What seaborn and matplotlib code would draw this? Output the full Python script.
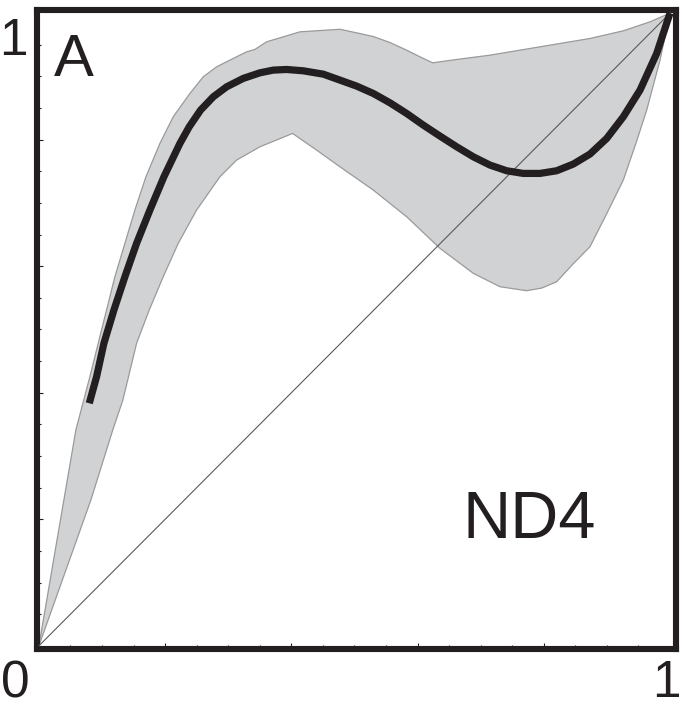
import numpy as np
import pandas as pd
import matplotlib
matplotlib.use("Agg")
import matplotlib.pyplot as plt
import seaborn as sns
from matplotlib.ticker import FixedLocator

# ---- data ----
curve_x = [0.0798, 0.0914, 0.1030, 0.1189, 0.1363, 0.1548, 0.1759, 0.1981, 0.2235,
           0.2382, 0.2562, 0.2763, 0.2975, 0.3238, 0.3502, 0.3714, 0.3925, 0.4189,
           0.4506, 0.4770, 0.5035, 0.5298, 0.5563, 0.5827, 0.6090, 0.6355, 0.6620,
           0.6883, 0.7147, 0.7412, 0.7675, 0.7940, 0.8204, 0.8468, 0.8732, 0.8997,
           0.9260, 0.9525, 0.9789, 1.0]
curve_y = [0.3834, 0.4254, 0.4782, 0.5308, 0.5834, 0.6362, 0.6888, 0.7414, 0.7942,
           0.8204, 0.8468, 0.8678, 0.8836, 0.8969, 0.9057, 0.9100, 0.9110, 0.9089,
           0.9036, 0.8942, 0.8847, 0.8731, 0.8583, 0.8415, 0.8231, 0.8057, 0.7888,
           0.7730, 0.7599, 0.7509, 0.7467, 0.7467, 0.7509, 0.7615, 0.7773, 0.8020,
           0.8362, 0.8784, 0.9363, 1.0]

upper_x = [0.0, 0.0586, 0.0808, 0.0940, 0.1204, 0.1521, 0.1696, 0.1918, 0.2129,
           0.2393, 0.2604, 0.2816, 0.3079, 0.3291, 0.3423, 0.3608, 0.4136, 0.4770,
           0.5035, 0.5298, 0.5563, 0.5827, 0.6038, 0.6239, 0.6620, 0.7147, 0.7940,
           0.8732, 0.9260, 0.9683, 1.0]
upper_y = [0.0, 0.3412, 0.4254, 0.4782, 0.5834, 0.6888, 0.7414, 0.7942, 0.8363,
           0.8731, 0.8994, 0.9152, 0.9284, 0.9389, 0.9427, 0.9547, 0.9705, 0.9745,
           0.9689, 0.9631, 0.9536, 0.9415, 0.9310, 0.9215, 0.9268, 0.9336, 0.9468,
           0.9600, 0.9721, 0.9863, 1.0]

lower_x = [0.0, 0.0824, 0.1170, 0.1331, 0.1548, 0.1748, 0.1970, 0.2208, 0.2499,
           0.2868, 0.3133, 0.3502, 0.4020, 0.4400, 0.4770, 0.5298, 0.5827, 0.6355,
           0.6883, 0.7306, 0.7729, 0.7971, 0.8204, 0.8463, 0.8732, 0.9002, 0.9260,
           0.9461, 0.9631, 0.9842, 1.0]
lower_y = [0.0, 0.2306, 0.3410, 0.3886, 0.4782, 0.5308, 0.5834, 0.6362, 0.6888,
           0.7414, 0.7678, 0.7888, 0.8099, 0.7836, 0.7572, 0.7204, 0.6782, 0.6283,
           0.5888, 0.5676, 0.5613, 0.5656, 0.5755, 0.6035, 0.6308, 0.6840, 0.7362,
           0.7946, 0.8468, 0.9258, 1.0]

diag_x = [0.0, 1.0]
diag_y = [0.0, 1.0]

panel_label = "A"
gene_label = "ND4"
corner_labels = ["1", "0", "1"]

# ---- figure ----
sns.set_theme(style="white")
plt.rcParams['font.family'] = ['Liberation Sans', 'DejaVu Sans']

fig = plt.figure(figsize=(6.8, 7.04), dpi=100)
W, H = 680, 704
L, R, T, B = 37, 676, 10, 649
ax = fig.add_axes([L / W, (H - B) / H, (R - L) / W, (B - T) / H])

# band polygon
poly_x = upper_x + lower_x[::-1]
poly_y = upper_y + lower_y[::-1]
ax.fill(poly_x, poly_y, color="#d1d2d4", zorder=1, linewidth=0)
sns.lineplot(x=upper_x, y=upper_y, ax=ax, color="#9a9a9a", linewidth=0.9,
             sort=False, estimator=None, zorder=2)
sns.lineplot(x=lower_x, y=lower_y, ax=ax, color="#9a9a9a", linewidth=0.9,
             sort=False, estimator=None, zorder=2)

# diagonal
sns.lineplot(x=diag_x, y=diag_y, ax=ax, color="#5a5a5a", linewidth=0.8,
             sort=False, estimator=None, zorder=3)

# main curve
sns.lineplot(x=curve_x, y=curve_y, ax=ax, color="#231f20", linewidth=5.2,
             sort=False, estimator=None, zorder=4)
for ln in ax.lines:
    ln.set_solid_joinstyle("round")
ax.lines[-1].set_solid_capstyle("butt")

ax.set_xlim(-0.003, 1.0095)
ax.set_ylim(-0.005, 1.005)

for s in ax.spines.values():
    s.set_visible(True)
    s.set_linewidth(4.4)
    s.set_color("#231f20")

major = [0.2, 0.4, 0.6, 0.8]
minor = [v / 20 for v in range(1, 20) if v % 4 != 0]
ax.xaxis.set_major_locator(FixedLocator(major))
ax.xaxis.set_minor_locator(FixedLocator(minor))
ax.yaxis.set_major_locator(FixedLocator(major))
ax.yaxis.set_minor_locator(FixedLocator(minor))
ax.tick_params(axis="both", which="major", direction="in", length=4.6, width=0.8,
               color="#231f20", bottom=True, left=True, top=False, right=False,
               labelbottom=False, labelleft=False)
ax.tick_params(axis="both", which="minor", direction="in", length=2.6, width=0.8,
               color="#231f20", bottom=True, left=True, top=False, right=False)
ax.set_xlabel("")
ax.set_ylabel("")
ax.grid(False)

# texts
def px(x, y):
    return x / W, 1 - y / H

fig.text(*px(13, 55), corner_labels[0], fontsize=37, ha="center", va="baseline", color="#231f20")
fig.text(*px(15, 697), corner_labels[1], fontsize=37, ha="center", va="baseline", color="#231f20")
fig.text(*px(666, 697), corner_labels[2], fontsize=37, ha="center", va="baseline", color="#231f20")
fig.text(*px(73.5, 76), panel_label, fontsize=43, ha="center", va="baseline", color="#231f20")
fig.text(*px(529, 538), gene_label, fontsize=48, ha="center", va="baseline", color="#231f20")

fig.savefig("out.png", dpi=100)
